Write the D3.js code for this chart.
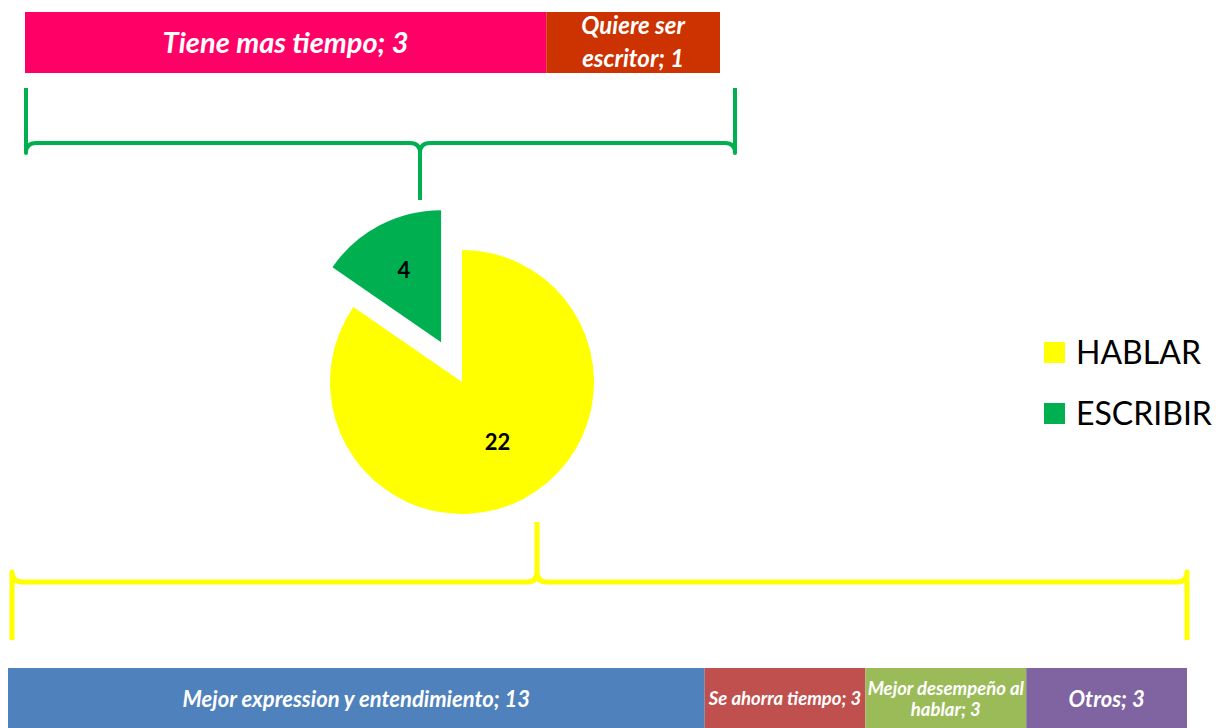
<!DOCTYPE html>
<html><head><meta charset="utf-8">
<script src="https://cdn.jsdelivr.net/npm/d3@7"></script>
<style>body{margin:0;background:#fff}svg{display:block}text{font-family:Lato,"Open Sans",sans-serif}</style>
</head><body><svg id="c" width="1225" height="728"></svg>
<script>
const pieCats = ["HABLAR", "ESCRIBIR"];
const pieVals = [22, 4];
const pieColors = ["#FFFF00", "#00B050"];
const topCats = [["Tiene mas tiempo; 3"], ["Quiere ser", "escritor; 1"]];
const topVals = [3, 1];
const topColors = ["#FF0066", "#CC3300"];
const botCats = [["Mejor expression y entendimiento; 13"], ["Se ahorra tiempo; 3"], ["Mejor desempeño al", "hablar; 3"], ["Otros; 3"]];
const botVals = [13, 3, 3, 3];
const botColors = ["#4F81BD", "#C0504D", "#9BBB59", "#8064A2"];

const svg = d3.select("#c");

function stackBar(cats, vals, colors, x0, x1, y0, h, fonts, lineH) {
  const total = d3.sum(vals);
  const x = d3.scaleLinear().domain([0, total]).range([x0, x1]);
  let cum = 0;
  const items = vals.map((v, i) => { const o = {a: cum, b: cum + v, i}; cum += v; return o; });
  const g = svg.append("g");
  g.selectAll("rect").data(items).join("rect")
    .attr("x", d => x(d.a)).attr("y", y0)
    .attr("width", d => x(d.b) - x(d.a)).attr("height", h)
    .attr("fill", d => colors[d.i]);
  items.forEach(d => {
    const lines = cats[d.i];
    const cx = (x(d.a) + x(d.b)) / 2, cy = y0 + h / 2;
    const fs = fonts[d.i];
    const lh = lineH[d.i];
    lines.forEach((ln, k) => {
      g.append("text").attr("x", cx)
        .attr("y", cy + (k - (lines.length - 1) / 2) * lh + fs * 0.35)
        .attr("text-anchor", "middle").attr("fill", "#fff")
        .attr("font-weight", "bold").attr("font-style", "italic")
        .attr("font-size", fs).text(ln);
    });
  });
  return x;
}

const xt = stackBar(topCats, topVals, topColors, 25, 720, 12, 61, [29, 24], [0, 33]);
const xb = stackBar(botCats, botVals, botColors, 8, 1187, 668, 62, [22, 18.5, 18.5, 22], [0, 0, 21, 0]);

function brace(x0, x1, yEnd, yLine, xTip, yTip, r, color, w) {
  const s = Math.sign(yTip - yLine);
  const p = d3.path();
  p.moveTo(x0, yEnd);
  p.lineTo(x0, yLine + s * r);
  p.quadraticCurveTo(x0, yLine, x0 + r, yLine);
  p.lineTo(xTip - r, yLine);
  p.quadraticCurveTo(xTip, yLine, xTip, yLine + s * r);
  p.lineTo(xTip, yTip);
  p.moveTo(x1, yEnd);
  p.lineTo(x1, yLine + s * r);
  p.quadraticCurveTo(x1, yLine, x1 - r, yLine);
  p.lineTo(xTip + r, yLine);
  p.quadraticCurveTo(xTip, yLine, xTip, yLine + s * r);
  svg.append("path").attr("d", p.toString()).attr("fill", "none")
    .attr("stroke", color).attr("stroke-width", w).attr("stroke-linejoin", "round");
}
brace(xt.range()[0] + 1, 735, 88, 143, 420, 200, 10, "#00B050", 4);
brace(xb.range()[0] + 4, xb.range()[1], 640, 582, 537, 522, 10, "#FFFF00", 5);

// pie
const cx = 462, cy = 382, R = 132, explode = 45;
const arcs = d3.pie().sort(null).value(d => d)(pieVals);
const arc = d3.arc().innerRadius(0).outerRadius(R);
const pg = svg.append("g").attr("transform", `translate(${cx},${cy})`);
arcs.forEach((a, i) => {
  const mid = (a.startAngle + a.endAngle) / 2;
  const off = i === 1 ? explode : 0;
  const dx = Math.sin(mid) * off, dy = -Math.cos(mid) * off;
  const g = pg.append("g").attr("transform", `translate(${dx},${dy})`);
  g.append("path").attr("d", arc(a)).attr("fill", pieColors[i]);
  const lr = i === 1 ? 80 : 70;
  g.append("text").attr("x", Math.sin(mid) * lr + (i === 0 ? 3 : 0)).attr("y", -Math.cos(mid) * lr + 6.5)
    .attr("text-anchor", "middle").attr("font-weight", "bold").attr("font-size", 22)
    .attr("fill", "#000").text(pieVals[i]);
});

// legend
const lg = svg.append("g");
pieCats.forEach((c, i) => {
  const y = 342 + i * 61;
  lg.append("rect").attr("x", 1044).attr("y", y).attr("width", 21).attr("height", 21).attr("fill", pieColors[i]);
  lg.append("text").attr("x", 1076).attr("y", y + 22).attr("font-size", 32).attr("fill", "#000").text(c);
});
</script></body></html>
